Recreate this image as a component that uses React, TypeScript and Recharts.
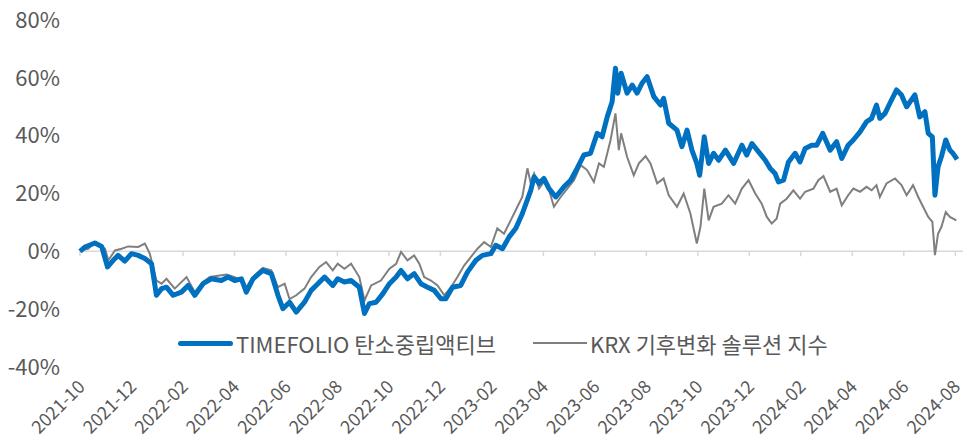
import { LineChart, Line, XAxis, YAxis, ReferenceLine } from "recharts";

// months since 2021-10, tick every 2 months
const tickMonths = [0, 2, 4, 6, 8, 10, 12, 14, 16, 18, 20, 22, 24, 26, 28, 30, 32, 34];
const tickLabels = [
  "2021-10", "2021-12", "2022-02", "2022-04", "2022-06", "2022-08", "2022-10", "2022-12", "2023-02",
  "2023-04", "2023-06", "2023-08", "2023-10", "2023-12", "2024-02", "2024-04", "2024-06", "2024-08",
];
const yTicks = [-40, -20, 0, 20, 40, 60, 80];

// TIMEFOLIO 탄소중립액티브 (cumulative return, %)
const tfMonths = [
  0, 0.19, 0.58, 0.84, 1.07, 1.29, 1.48, 1.74, 2.0, 2.26, 2.52, 2.78, 2.97, 3.17, 3.36, 3.62, 3.94, 4.2, 4.46,
  4.78, 5.1, 5.49, 5.75, 6.01, 6.27, 6.46, 6.72, 7.1, 7.43, 7.69, 7.88, 8.14, 8.4, 8.72,
  8.98, 9.24, 9.5, 9.82, 10.01, 10.27, 10.53, 10.85, 11.05, 11.24, 11.5, 11.76, 12.02, 12.28, 12.47, 12.72,
  12.98, 13.24, 13.5, 13.76, 14.02, 14.21, 14.47, 14.79, 15.05, 15.38, 15.63, 15.96, 16.15, 16.41, 16.67,
  16.93, 17.18,
  17.51, 17.64, 17.83, 18.02, 18.22, 18.48, 18.8, 19.06, 19.31, 19.57, 19.83, 20.09, 20.28, 20.48, 20.67,
  20.8, 20.89, 21.02, 21.25, 21.45, 21.64, 21.83, 22.03, 22.29, 22.55, 22.67, 22.87, 23.19, 23.38, 23.58,
  23.77, 23.96, 24.07, 24.25, 24.42, 24.61, 24.81, 25.07, 25.39, 25.71,
  25.9, 26.1, 26.36, 26.62, 26.81, 27.0, 27.13, 27.33, 27.52, 27.78, 27.97, 28.17, 28.42, 28.62, 28.85,
  29.14, 29.39, 29.59, 29.84, 30.04, 30.3, 30.55, 30.75, 30.94, 31.07, 31.27, 31.46, 31.72, 31.91, 32.11,
  32.43, 32.62, 32.82, 32.95, 33.11, 33.21, 33.33, 33.46, 33.63, 33.79, 33.91, 34.07,
];
const tfValues = [
  0, 1.5, 2.9, 1.7, -5.4, -3.1, -1.4, -3.4, -0.8, -1.4, -2.5, -4.3, -15.2, -12.9, -12.4, -15.2, -14.1, -11.8, -15.2,
  -11.2, -9.5, -10.1, -8.9, -10.1, -9.5, -14.1, -9.5, -6.6, -7.7, -15.2, -19.8, -17.6, -21.0, -17.6,
  -13.5, -11.2, -8.9, -11.8, -9.5, -10.6, -10.1, -12.4, -21.5, -18.1, -17.6, -14.7, -11.2, -8.9, -6.6, -9.5,
  -7.7, -11.2, -12.4, -13.5, -16.4, -16.4, -12.4, -11.8, -7.2, -3.1, -1.4, -0.8, 2.1, 0.9, 5.0,
  8.0, 13.0,
  21.1, 25.8, 23.5, 25.2, 21.7, 18.8, 22.3, 24.6, 28.7, 33.3, 33.9, 40.8, 39.6, 46.5, 51.7,
  63.3, 54.7, 61.6, 54.7, 57.5, 54.7, 58.1, 60.4, 53.5, 50.6, 52.9, 44.3, 41.9, 36.2, 41.9,
  35.0, 30.4, 26.3, 39.6, 30.4, 33.9, 31.5, 35.0, 30.4, 36.7,
  33.3, 37.3, 34.4, 31.5, 28.7, 26.9, 24.0, 24.6, 30.9, 33.9, 30.9, 35.6, 36.7, 36.7, 40.8,
  35.0, 37.9, 32.1, 36.7, 38.5, 41.3, 44.8, 46.0, 50.6, 46.0, 47.7, 51.2, 55.8, 54.1, 50.0,
  54.1, 46.5, 48.3, 40.8, 39.6, 19.4, 29.2, 32.7, 38.5, 35.0, 33.9, 31.8,
];

// KRX 기후변화 솔루션 지수 (cumulative return, %)
const krxMonths = [
  0, 0.32, 0.58, 0.97, 1.1, 1.36, 1.62, 1.87, 2.26, 2.52, 2.71, 2.97, 3.17, 3.36, 3.68, 4.14, 4.46, 4.78, 5.04,
  5.69, 6.01, 6.27, 6.46, 6.78, 7.1, 7.43, 7.69, 7.95, 8.14, 8.4, 8.72,
  8.98, 9.3, 9.56, 9.82, 10.01, 10.27, 10.53, 10.85, 11.05, 11.31, 11.69, 12.02, 12.28, 12.47, 12.72, 12.98,
  13.18, 13.37, 13.63, 13.89, 14.15, 14.41, 14.66, 14.92, 15.18, 15.44, 15.7, 15.96, 16.21, 16.47, 16.73,
  16.99, 17.18,
  17.38, 17.51, 17.64, 17.83, 18.02, 18.22, 18.41, 18.67, 18.93, 19.19, 19.45, 19.7, 19.96, 20.16, 20.35,
  20.61, 20.8, 20.93, 21.02, 21.25, 21.51, 21.71, 21.97, 22.16, 22.42, 22.67, 22.87, 23.19, 23.45, 23.71,
  23.96, 24.1, 24.25, 24.42, 24.61, 24.93, 25.19, 25.45, 25.71,
  25.97, 26.23, 26.48, 26.68, 26.87, 27.06, 27.2, 27.45, 27.71, 27.97, 28.17, 28.49, 28.68, 28.88, 29.14,
  29.39, 29.59, 29.84, 30.04, 30.3, 30.55, 30.75, 30.94, 31.07, 31.33, 31.66, 31.91, 32.11, 32.36, 32.56,
  32.75, 32.95, 33.11, 33.21, 33.33, 33.46, 33.63, 33.79, 34.04,
];
const krxValues = [
  0.3, 0.9, 3.2, 0.9, -3.1, 0.3, 0.9, 1.7, 1.5, 2.7, -0.8, -10.1, -11.2, -9.5, -12.9, -8.9, -14.1, -10.6, -8.9,
  -8.0, -8.9, -10.1, -12.4, -8.3, -5.7, -6.6, -12.4, -11.2, -16.5, -15.2, -12.9,
  -8.9, -5.4, -3.7, -6.6, -4.3, -6.0, -4.3, -8.9, -17.0, -11.8, -10.1, -6.0, -4.3, -0.2, -3.1, -1.4,
  -4.3, -8.9, -10.1, -11.8, -15.2, -12.4, -8.9, -4.9, -2.0, 0.9, 3.2, 1.5, 7.9, 6.1, 10.7,
  15.4, 18.8,
  28.7, 23.5, 26.9, 21.7, 24.0, 21.1, 15.4, 18.8, 21.7, 24.6, 29.8, 28.1, 24.0, 30.4, 29.2,
  38.5, 47.7, 35.0, 40.8, 32.7, 26.3, 30.4, 32.9, 30.4, 23.5, 25.2, 19.4, 15.4, 20.0, 13.1,
  2.7, 8.4, 21.7, 10.7, 15.4, 16.5, 19.4, 16.5, 21.7,
  24.6, 20.0, 16.5, 11.9, 9.6, 11.3, 16.5, 18.2, 21.1, 18.2, 20.6, 21.7, 24.6, 26.0, 20.6,
  21.7, 15.9, 19.4, 21.7, 20.6, 22.3, 21.1, 22.9, 18.8, 23.5, 25.2, 22.9, 19.4, 22.9, 18.8,
  15.4, 11.9, 10.2, -1.3, 6.1, 8.4, 13.6, 11.9, 10.7,
];

const tfData = tfMonths.map((t, i) => ({ t, v: tfValues[i] }));
const krxData = krxMonths.map((t, i) => ({ t, v: krxValues[i] }));

const FONT = "'Noto Sans CJK KR', 'Noto Sans', sans-serif";
const TEXT = "#595959";

function DateTick({ x, y, payload }: any) {
  const label = tickLabels[tickMonths.indexOf(payload.value)];
  return (
    <text
      transform={`translate(${x + 6},${y + 21}) rotate(-45)`}
      textAnchor="end"
      fill={TEXT}
      fontSize={18}
      fontFamily={FONT}
    >
      {label}
    </text>
  );
}

export default function App() {
  return (
    <div style={{ position: "absolute", left: 0, top: 0, width: 976, height: 439, background: "#fff" }}>
      <LineChart width={976} height={439} margin={{ top: 20, right: 13, left: 0, bottom: 0 }}>
        <XAxis
          type="number"
          dataKey="t"
          domain={[0, 34.3]}
          ticks={tickMonths}
          interval={0}
          axisLine={false}
          tickLine={false}
          tickSize={0}
          tickMargin={0}
          height={72}
          tick={<DateTick />}
        />
        <YAxis
          domain={[-40, 80]}
          ticks={yTicks}
          axisLine={false}
          tickLine={false}
          tickSize={0}
          tickMargin={20}
          width={80}
          tickFormatter={(v) => `${v}%`}
          tick={{ fill: TEXT, fontSize: 22, fontFamily: FONT }}
        />
        <ReferenceLine y={0} stroke="#d9d9d9" strokeWidth={1.5} />
        {tickMonths.map((m) => (
          <ReferenceLine
            key={m}
            segment={[{ x: m, y: 0 }, { x: m, y: -1.7 }]}
            stroke="#d9d9d9"
            strokeWidth={1.5}
          />
        ))}
        <Line
          data={krxData}
          dataKey="v"
          type="linear"
          stroke="#7f7f7f"
          strokeWidth={2}
          dot={false}
          isAnimationActive={false}
        />
        <Line
          data={tfData}
          dataKey="v"
          type="linear"
          stroke="#0070c0"
          strokeWidth={5}
          strokeLinejoin="round"
          dot={false}
          isAnimationActive={false}
        />
      </LineChart>
      <div style={{ position: "absolute", top: 329, left: 178, display: "flex", alignItems: "center", fontFamily: FONT, fontSize: 22, lineHeight: "28px", color: TEXT }}>
        <span style={{ display: "inline-block", width: 55, height: 5, borderRadius: 3, background: "#0070c0" }} />
        <span style={{ marginLeft: 3 }}>TIMEFOLIO 탄소중립액티브</span>
      </div>
      <div style={{ position: "absolute", top: 329, left: 533, display: "flex", alignItems: "center", fontFamily: FONT, fontSize: 22, lineHeight: "28px", color: TEXT }}>
        <span style={{ display: "inline-block", width: 54, height: 2, background: "#7f7f7f" }} />
        <span style={{ marginLeft: 3 }}>KRX 기후변화 솔루션 지수</span>
      </div>
    </div>
  );
}
